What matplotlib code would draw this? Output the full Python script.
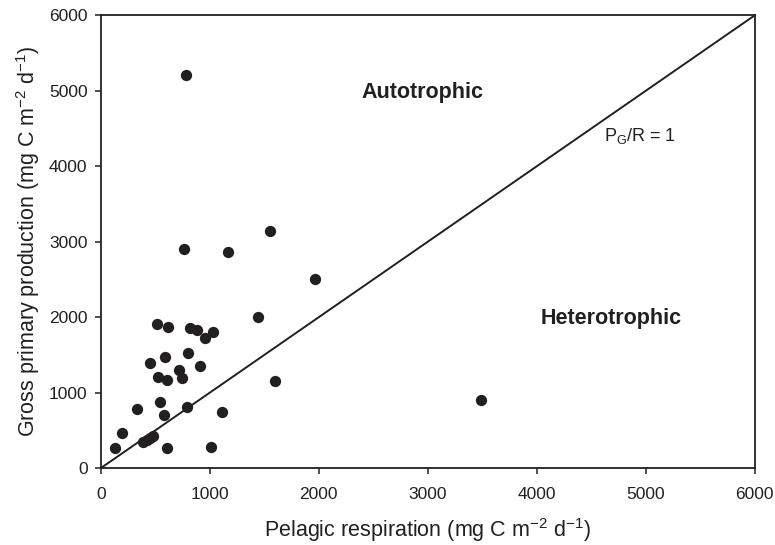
import matplotlib
matplotlib.use("Agg")
import matplotlib.pyplot as plt

respiration = [786, 761, 1171, 1552, 1965, 1443, 1596,
               520, 617, 816, 886, 1030, 954,
               593, 804, 456, 914, 718, 749, 523, 608,
               541, 333, 578, 791, 1112,
               193, 131, 390, 420, 450, 480, 608, 1012, 3491]
production = [5207, 2898, 2866, 3140, 2500, 2005, 1157,
              1908, 1873, 1859, 1829, 1802, 1718,
              1475, 1524, 1387, 1351, 1298, 1188, 1206, 1166,
              879, 782, 702, 804, 742,
              460, 269, 350, 375, 400, 425, 261, 282, 897]
ticks = [0, 1000, 2000, 3000, 4000, 5000, 6000]
line_1to1 = [0, 6000]

plt.rcParams['font.family'] = ['Liberation Sans', 'DejaVu Sans']
fig = plt.figure(figsize=(7.75, 5.45), dpi=100)
ax = fig.add_axes([0.130, 0.141, 0.844, 0.831])
col = '#231f20'
ax.plot(line_1to1, line_1to1, color=col, lw=1.4, zorder=2)
ax.scatter(respiration, production, s=66, color=col, zorder=3, linewidths=0)
ax.set_xlim(0, 6000)
ax.set_ylim(0, 6000)
ax.set_xticks(ticks)
ax.set_yticks(ticks)
ax.tick_params(direction='out', length=4.5, width=1.1, labelsize=12.5, colors=col, pad=5)
ax.tick_params(axis='x', pad=9)
for s in ax.spines.values():
    s.set_linewidth(1.3)
    s.set_color(col)
ax.set_xlabel('Pelagic respiration (mg C m$^{\\mathregular{-2}}$ d$^{\\mathregular{-1}}$)', fontsize=15.5, color=col, labelpad=10)
ax.set_ylabel('Gross primary production (mg C m$^{\\mathregular{-2}}$ d$^{\\mathregular{-1}}$)', fontsize=15.5, color=col, labelpad=5)
ax.text(2953, 4982, 'Autotrophic', ha='center', va='center', fontsize=15.5, fontweight='bold', color=col)
ax.text(4686, 1988, 'Heterotrophic', ha='center', va='center', fontsize=15.5, fontweight='bold', color=col)
ax.text(4943, 4399, 'P$_{\\mathregular{G}}$/R = 1', ha='center', va='center', fontsize=13, color=col)
fig.savefig('out.png', dpi=100)
